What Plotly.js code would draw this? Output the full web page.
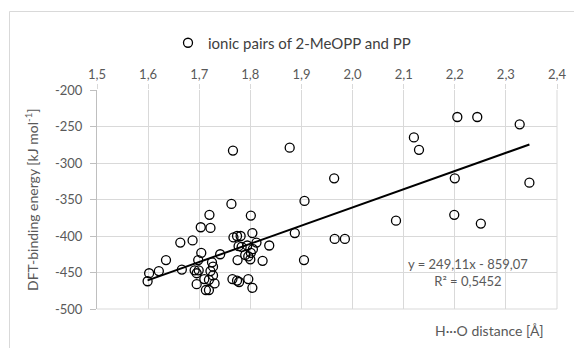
<!DOCTYPE html>
<html>
<head>
<meta charset="utf-8">
<script src="https://cdn.plot.ly/plotly-3.0.1.min.js"></script>
<style>html,body{margin:0;padding:0;background:#fff;}#chart{width:574px;height:348px;}</style>
</head>
<body>
<div id="chart"></div>
<script>
// H···O distance [Å]
const distance = [
  1.599, 1.602, 1.621, 1.635, 1.663, 1.666, 1.687, 1.691, 1.695, 1.699,
  1.695, 1.698, 1.703, 1.704, 1.710, 1.713, 1.719, 1.719, 1.720, 1.722,
  1.722, 1.725, 1.727, 1.727, 1.730, 1.741, 1.763, 1.766, 1.765, 1.767,
  1.774, 1.781, 1.774, 1.778, 1.775, 1.777, 1.783, 1.790, 1.794, 1.796,
  1.796, 1.800, 1.801, 1.801, 1.804, 1.804, 1.805, 1.812, 1.824, 1.837,
  1.877, 1.887, 1.905, 1.906, 1.964, 1.965, 1.985, 2.085, 2.120, 2.130,
  2.199, 2.200, 2.205, 2.244, 2.251, 2.327, 2.346
];
// DFT-binding energy [kJ/mol]
const energy = [
  -462, -451, -448, -433, -409, -446, -406, -447, -451, -447,
  -466, -433, -388, -423, -459, -474, -474, -460, -371, -389,
  -448, -436, -442, -454, -465, -425, -356, -283, -459, -402,
  -400, -400, -461, -463, -433, -414, -415, -426, -413, -428,
  -459, -432, -423, -372, -396, -471, -418, -409, -434, -413,
  -279, -396, -433, -352, -321, -404, -404, -379, -265, -282,
  -371, -321, -237, -237, -383, -247, -327
];
const trendSlope = 249.11;
const trendIntercept = -859.07;
const xTickVals = [1.5, 1.6, 1.7, 1.8, 1.9, 2.0, 2.1, 2.2, 2.3, 2.4];
const xTickLabels = ['1,5','1,6','1,7','1,8','1,9','2,0','2,1','2,2','2,3','2,4'];
const yTickVals = [-200, -250, -300, -350, -400, -450, -500];
const yTickLabels = ['-200','-250','-300','-350','-400','-450','-500'];
const seriesName = 'ionic pairs of 2-MeOPP and PP';
const eqText = 'y = 249,11x - 859,07<br>R² = 0,5452';
const yTitle = 'DFT-binding energy [kJ mol<sup>-1</sup>]';
const xTitle = 'H···O distance [Å]';

const xMin = Math.min(...distance), xMax = Math.max(...distance);
const trendX = [xMin, xMax];
const trendY = trendX.map(v => trendSlope * v + trendIntercept);

const FONT = 'Lato, "Open Sans", sans-serif';
const GRAY = '#595959';
const PW = 460, PH = 219, PL = 97, PB = 309;
const px = v => (v - PL) / PW;
const py = v => (PB - v) / PH;

const data = [
  {
    x: distance, y: energy, type: 'scatter', mode: 'markers', name: seriesName,
    marker: {symbol: 'circle', size: 9, color: 'rgba(0,0,0,0)', line: {color: '#000', width: 1.3}},
    showlegend: true
  },
  {
    x: trendX, y: trendY, type: 'scatter', mode: 'lines',
    line: {color: '#000', width: 2}, showlegend: false, hoverinfo: 'skip'
  }
];

const layout = {
  width: 574, height: 348,
  margin: {l: 97, r: 17, t: 90, b: 39},
  paper_bgcolor: '#fff', plot_bgcolor: '#fff',
  font: {family: FONT, size: 13, color: GRAY},
  showlegend: true,
  legend: {orientation: 'h', x: px(292), xanchor: 'center', y: py(43), yanchor: 'middle',
           font: {family: FONT, size: 15, color: '#404040'}, bgcolor: 'rgba(0,0,0,0)'},
  xaxis: {
    side: 'top', range: [1.5, 2.4], tickvals: xTickVals, ticktext: xTickLabels,
    showgrid: true, gridcolor: '#d9d9d9', gridwidth: 1, zeroline: false,
    showline: false, ticks: 'outside', ticklen: 5, tickcolor: '#d9d9d9',
    tickfont: {family: FONT, size: 13, color: GRAY}
  },
  yaxis: {
    range: [-500, -200], tickvals: yTickVals, ticktext: yTickLabels,
    showgrid: true, gridcolor: '#d9d9d9', gridwidth: 1, zeroline: false,
    showline: true, linecolor: '#bfbfbf', linewidth: 1,
    ticks: 'outside', ticklen: 6, tickcolor: '#bfbfbf', ticklabelstandoff: 5,
    tickfont: {family: FONT, size: 13, color: GRAY}
  },
  shapes: [
    {type: 'line', xref: 'paper', yref: 'paper', x0: 1, x1: 1, y0: 0, y1: 1, line: {color: '#d9d9d9', width: 1}},
    {type: 'line', xref: 'paper', yref: 'paper', x0: 0, x1: 1, y0: 0, y1: 0, line: {color: '#d9d9d9', width: 1}},
    {type: 'rect', xref: 'paper', yref: 'paper', x0: px(9.5), x1: 1.2, y0: -0.3, y1: py(11.5),
     line: {color: '#d9d9d9', width: 1}, fillcolor: 'rgba(0,0,0,0)', layer: 'below'}
  ],
  annotations: [
    {text: yTitle, xref: 'paper', yref: 'paper', x: px(31), y: py(200), textangle: -90,
     xanchor: 'center', yanchor: 'middle', showarrow: false, font: {family: FONT, size: 14, color: GRAY}},
    {text: xTitle, xref: 'paper', yref: 'paper', x: px(489.5), y: py(330),
     xanchor: 'center', yanchor: 'middle', showarrow: false, font: {family: FONT, size: 14, color: GRAY}},
    {text: eqText, xref: 'paper', yref: 'paper', x: px(468), y: py(272.5),
     xanchor: 'center', yanchor: 'middle', showarrow: false, align: 'center',
     font: {family: FONT, size: 13, color: GRAY}}
  ]
};

Plotly.newPlot('chart', data, layout, {displayModeBar: false, staticPlot: true});
</script>
</body>
</html>
